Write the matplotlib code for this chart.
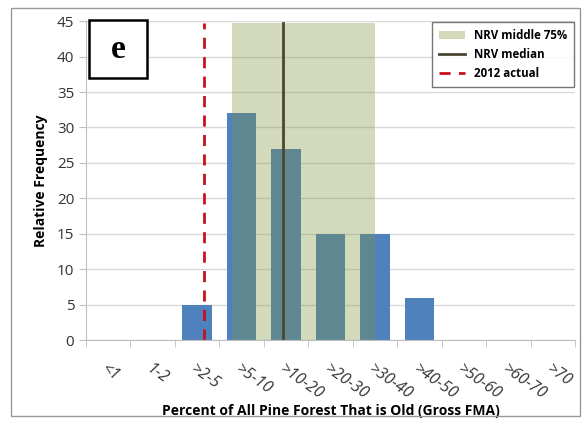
import matplotlib.pyplot as plt
import matplotlib.patches as mpatches
import numpy as np

# histogram of NRV old-forest percentages
categories = ["<1", "1-2", ">2-5", ">5-10", ">10-20", ">20-30", ">30-40",
              ">40-50", ">50-60", ">60-70", ">70"]
frequency = [0, 0, 5, 32, 27, 15, 15, 6, 0, 0, 0]

# reference lines / band, in category-index units
nrv_band = [2.78, 5.99]
nrv_band_top = 44.7
nrv_median = 3.93
actual_2012 = 2.15

plt.rcParams['font.family'] = ['Open Sans', 'DejaVu Sans']

fig = plt.figure(figsize=(5.85, 4.24), dpi=100)
ax = fig.add_axes([0.147, 0.198, 0.836, 0.752])

x = np.arange(len(categories))
ax.bar(x, frequency, width=0.67, color="#4F81BD", zorder=2)

band = mpatches.Rectangle((nrv_band[0], 0), nrv_band[1] - nrv_band[0], nrv_band_top,
                          facecolor="#80943C", alpha=0.34, edgecolor="none", zorder=3,
                          label="NRV middle 75%")
ax.add_patch(band)
ax.plot([nrv_median, nrv_median], [0, nrv_band_top], color="#4A4630", lw=2,
        zorder=4, label="NRV median")
ax.plot([actual_2012, actual_2012], [0, nrv_band_top], color="#C8101E", lw=2,
        ls=(0, (4, 3)), zorder=4, label="2012 actual")

ax.set_xlim(-0.5, len(categories) - 0.5)
ax.set_ylim(0, 45)
ax.set_yticks(range(0, 46, 5))
ax.yaxis.grid(True, color="#D9D9D9", lw=1)
ax.set_axisbelow(True)

ax.set_xticks(x)
ax.set_xticklabels(categories, rotation=-35, ha="left", va="top",
                   rotation_mode="anchor", fontsize=11.5, color="#333333",
                   style="italic")
ax.set_xticks(np.arange(-0.5, len(categories)), minor=True)
ax.tick_params(axis="x", which="major", length=0, pad=15)
ax.tick_params(axis="x", which="minor", length=5, color="#BFBFBF")
ax.tick_params(axis="y", length=5, color="#BFBFBF", labelsize=11, labelcolor="#333333")

for side in ["top", "right"]:
    ax.spines[side].set_visible(False)
for side in ["left", "bottom"]:
    ax.spines[side].set_color("#BFBFBF")

ax.set_xlabel("Percent of All Pine Forest That is Old (Gross FMA)", fontsize=10,
              fontweight="bold", labelpad=1)
ax.set_ylabel("Relative Frequency", fontsize=10, fontweight="bold", labelpad=6)

leg = ax.legend(loc="upper right", bbox_to_anchor=(1.0, 1.0), fancybox=False,
                edgecolor="#555555", prop={"weight": "bold", "size": 8.3},
                handlelength=2.2, borderaxespad=0.1, borderpad=0.6)
leg.get_frame().set_linewidth(1)

# panel letter in a box
ax.add_patch(mpatches.Rectangle((0.006, 0.821), 0.119, 0.182, transform=ax.transAxes,
                                facecolor="white", edgecolor="black", lw=1.8,
                                zorder=6, clip_on=False))
ax.text(0.066, 0.912, "e", transform=ax.transAxes, fontsize=24, fontweight="bold",
        family="Liberation Serif", ha="center", va="center", zorder=7)

# outer figure border
fig.patches.append(mpatches.Rectangle((0.019, 0.02), 0.972, 0.962, transform=fig.transFigure,
                                      fill=False, edgecolor="#999999", lw=1))

fig.savefig("out.png", dpi=100)
